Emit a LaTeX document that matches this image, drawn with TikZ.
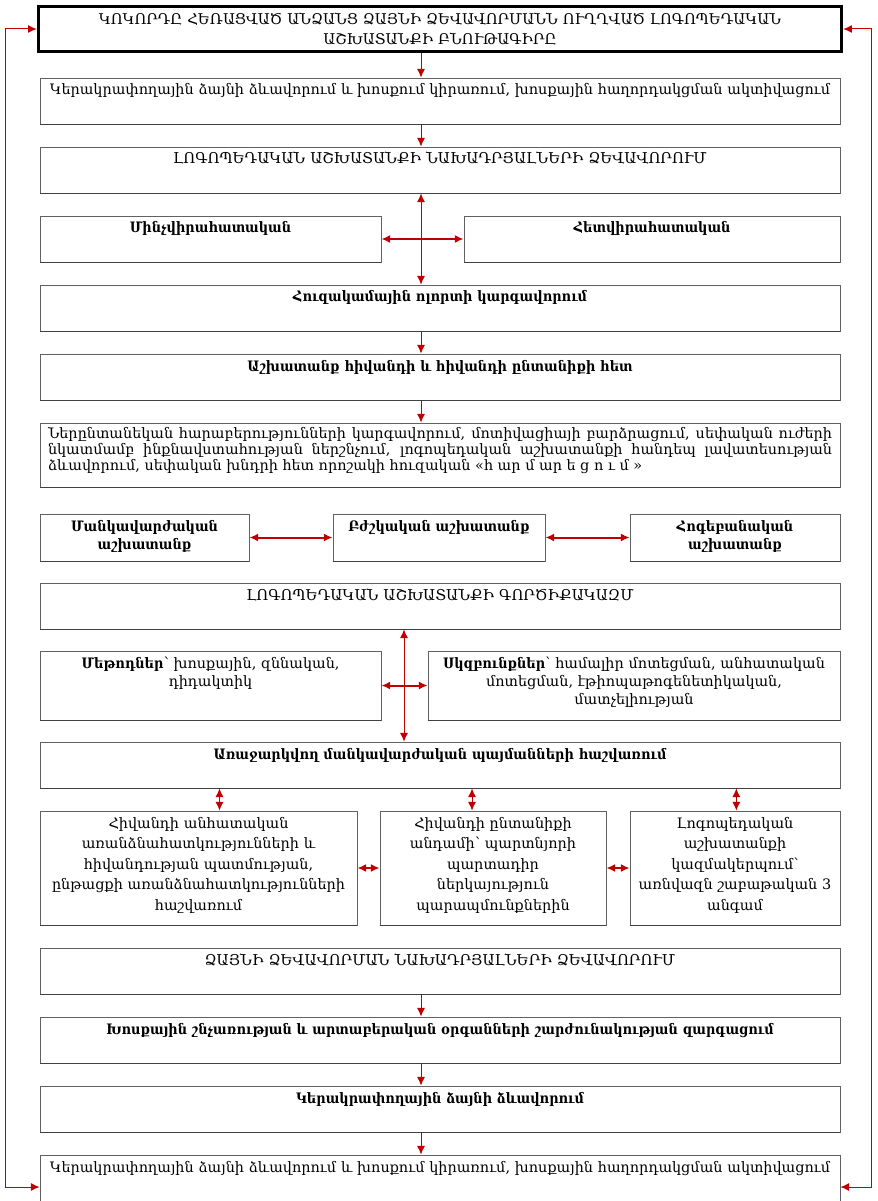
\documentclass[tikz,border=0pt]{standalone}
\usepackage{fontspec}
\setmainfont{DejaVu Serif}[BoldFeatures={FakeStretch=0.9}]
\usetikzlibrary{
    arrows.meta,
    positioning
}
\definecolor{linkred}{RGB}{192,0,0}
\def\vsep{16.65pt}
\tikzset{
    base/.style={
        draw=black!62,
        line width=0.6pt,
        align=center,
        inner xsep=2pt,
        inner ysep=4pt,
        font=\fontsize{10.8}{13.5}\selectfont,
        append after command={
            (\tikzlastnode.south west) edge [draw=black!75, line width=1pt] (\tikzlastnode.south east)
        },
    },
    wide/.style={
        base,
        minimum width=600pt,
        text width=596pt,
    },
    caps/.style={font=\fontsize{11.2}{15}\selectfont},
    flat/.style={minimum height=34.5pt, text height=8.75pt, text depth=17.75pt},
    pair/.style={minimum height=35.25pt, text height=8.75pt, text depth=18.5pt},
    open/.style={minimum height=48pt, text height=8.75pt, text depth=31.25pt},
    deep/.style={minimum height=51.75pt, text height=8.75pt, text depth=35pt},
    tall/.style={minimum height=85.5pt, text height=8.75pt, text depth=68.75pt,
        font=\fontsize{10.8}{15.4}\selectfont},
    heading/.style={
        draw=black,
        line width=2.25pt,
        align=center,
        minimum width=600pt,
        text width=596pt,
        minimum height=33.75pt,
        font=\fontsize{11.1}{15}\selectfont,
    },
    link/.style={
        draw=linkred,
        line width=0.75pt,
        -{Latex[length=6.5pt,width=6pt]}
    },
    both link/.style={
        link,
        {Latex[length=6.5pt,width=6pt]}-{Latex[length=6.5pt,width=6pt]}
    },
}

\begin{document}
\begin{tikzpicture}
        \useasboundingbox (0,0) rectangle (657.75pt,-900.75pt);

        \node (title) [heading, anchor=north] at (330pt,-3.75pt) {
            ԿՈԿՈՐԴԸ ՀԵՌԱՑՎԱԾ ԱՆՁԱՆՑ ՁԱՅՆԻ ՁԵՎԱՎՈՐՄԱՆՆ ՈՒՂՂՎԱԾ ԼՈԳՈՊԵԴԱԿԱՆ\\
            ԱՇԽԱՏԱՆՔԻ ԲՆՈՒԹԱԳԻՐԸ};
        \node (aim) [wide, flat, below=18.45pt of title] {
            Կերակրափողային ձայնի ձևավորում և խոսքում կիրառում, խոսքային հաղորդակցման ակտիվացում};
        \node (prereq) [wide, flat, caps, below=\vsep of aim] {
            ԼՈԳՈՊԵԴԱԿԱՆ ԱՇԽԱՏԱՆՔԻ ՆԱԽԱԴՐՅԱԼՆԵՐԻ ՁԵՎԱՎՈՐՈՒՄ};

        \node (preop) [base, flat, minimum width=255.75pt, text width=251.75pt,
            below=\vsep of prereq.south west, anchor=north west] {
            \textbf{Մինչվիրահատական}};
        \node (postop) [base, flat, minimum width=282pt, text width=278pt,
            right=61.65pt of preop] {
            \textbf{Հետվիրահատական}};

        \node (emotion) [wide, flat, below=\vsep of preop.south west, anchor=north west] {
            \textbf{Հուզակամային ոլորտի կարգավորում}};
        \node (family) [wide, flat, below=\vsep of emotion] {
            \textbf{Աշխատանք հիվանդի և հիվանդի ընտանիքի հետ}};
        \node (support) [wide, minimum height=48pt, inner xsep=6pt, text width=588pt,
            inner ysep=3pt, text height=8.25pt, text depth=33.75pt, align=justify,
            font=\fontsize{10.8}{12}\selectfont, below=\vsep of family] {
            Ներընտանեկան հարաբերությունների կարգավորում, մոտիվացիայի բարձրացում, սեփական ուժերի\linebreak
            նկատմամբ ինքնավստահության ներշնչում, լոգոպեդական աշխատանքի հանդեպ լավատեսության\linebreak
            ձևավորում, սեփական խնդրի հետ որոշակի հուզական «հ ար մ ար ե ց ո ւ մ »};

        \node (ped) [base, pair, minimum width=156.75pt, text width=152.75pt,
            below=19.65pt of support.south west, anchor=north west] {
            \textbf{Մանկավարժական}\\\textbf{աշխատանք}};
        \node (med) [base, pair, minimum width=159pt, text width=155pt,
            right=62.4pt of ped] {
            \textbf{Բժշկական աշխատանք}};
        \node (psy) [base, pair, minimum width=157.5pt, text width=153.5pt,
            right=63.15pt of med] {
            \textbf{Հոգեբանական}\\\textbf{աշխատանք}};

        \node (toolkit) [wide, flat, caps, below=15.9pt of ped.south west, anchor=north west] {
            ԼՈԳՈՊԵԴԱԿԱՆ ԱՇԽԱՏԱՆՔԻ ԳՈՐԾԻՔԱԿԱԶՄ};
        \node (methods) [base, deep, minimum width=255.75pt, text width=251.75pt,
            below=15.9pt of toolkit.south west, anchor=north west] {
            \textbf{Մեթոդներ}՝ խոսքային, զննական,\\դիդակտիկ};
        \node (principles) [base, deep, minimum width=309pt, text width=305pt,
            right=34.65pt of methods] {
            \textbf{Սկզբունքներ}՝ համալիր մոտեցման, անհատական\\
            մոտեցման, էթիոպաթոգենետիկական,\\մատչելիության};

        \node (terms) [wide, flat, below=15.9pt of methods.south west, anchor=north west] {
            \textbf{Առաջարկվող մանկավարժական պայմանների հաշվառում}};

        \node (history) [base, tall, minimum width=237.75pt, text width=233.75pt,
            below=\vsep of terms.south west, anchor=north west] {
            Հիվանդի անհատական\\առանձնահատկությունների և\\հիվանդության պատմության,\\
            ընթացքի առանձնահատկությունների\\հաշվառում};
        \node (partner) [base, tall, minimum width=169.5pt, text width=165.5pt,
            right=16.65pt of history] {
            Հիվանդի ընտանիքի\\անդամի՝ պարտնյորի\\պարտադիր\\ներկայություն\\պարապմունքներին};
        \node (schedule) [base, tall, minimum width=157.5pt, text width=153.5pt,
            right=17.4pt of partner] {
            Լոգոպեդական\\աշխատանքի\\կազմակերպում՝\\առնվազն շաբաթական 3\\անգամ};

        \node (voiceprep) [wide, flat, caps, below=\vsep of history.south west, anchor=north west] {
            ՁԱՅՆԻ ՁԵՎԱՎՈՐՄԱՆ ՆԱԽԱԴՐՅԱԼՆԵՐԻ ՁԵՎԱՎՈՐՈՒՄ};
        \node (breath) [wide, flat, below=\vsep of voiceprep] {
            \textbf{Խոսքային շնչառության և արտաբերական օրգանների շարժունակության զարգացում}};
        \node (esovoice) [wide, flat, below=\vsep of breath] {
            \textbf{Կերակրափողային ձայնի ձևավորում}};
        \node (result) [wide, open, below=\vsep of esovoice] {
            Կերակրափողային ձայնի ձևավորում և խոսքում կիրառում, խոսքային հաղորդակցման ակտիվացում};

        \coordinate (spine) at (315.75pt,0);
        \coordinate (axis) at (303pt,0);
        \coordinate (left rail) at (3.75pt,0);
        \coordinate (right rail) at (653.25pt,0);

        \foreach \a/\b in {title/aim, aim/prereq, emotion/family, family/support,
                voiceprep/breath, breath/esovoice, esovoice/result}{
            \draw [link] (\a.south -| spine) -- (\b.north -| spine);
        }
        \draw [both link] (prereq.south -| spine) -- (emotion.north -| spine);
        \draw [both link] (toolkit.south -| axis) -- (terms.north -| axis);
        \foreach \a/\b in {preop/postop, ped/med, med/psy, methods/principles,
                history/partner, partner/schedule}{
            \draw [both link, line width=1.5pt] (\a) -- (\b);
        }
        \foreach \n/\dx in {history/15.75pt, partner/-15.75pt, schedule/1pt}{
            \draw [both link] ([xshift=\dx]terms.south -| \n.north) -- ([xshift=\dx]\n.north);
        }
        \draw [both link] (title.west) -| (left rail |- result.west) -- (result.west);
        \draw [both link] (title.east) -| (right rail |- result.east) -- (result.east);
\end{tikzpicture}
\end{document}
